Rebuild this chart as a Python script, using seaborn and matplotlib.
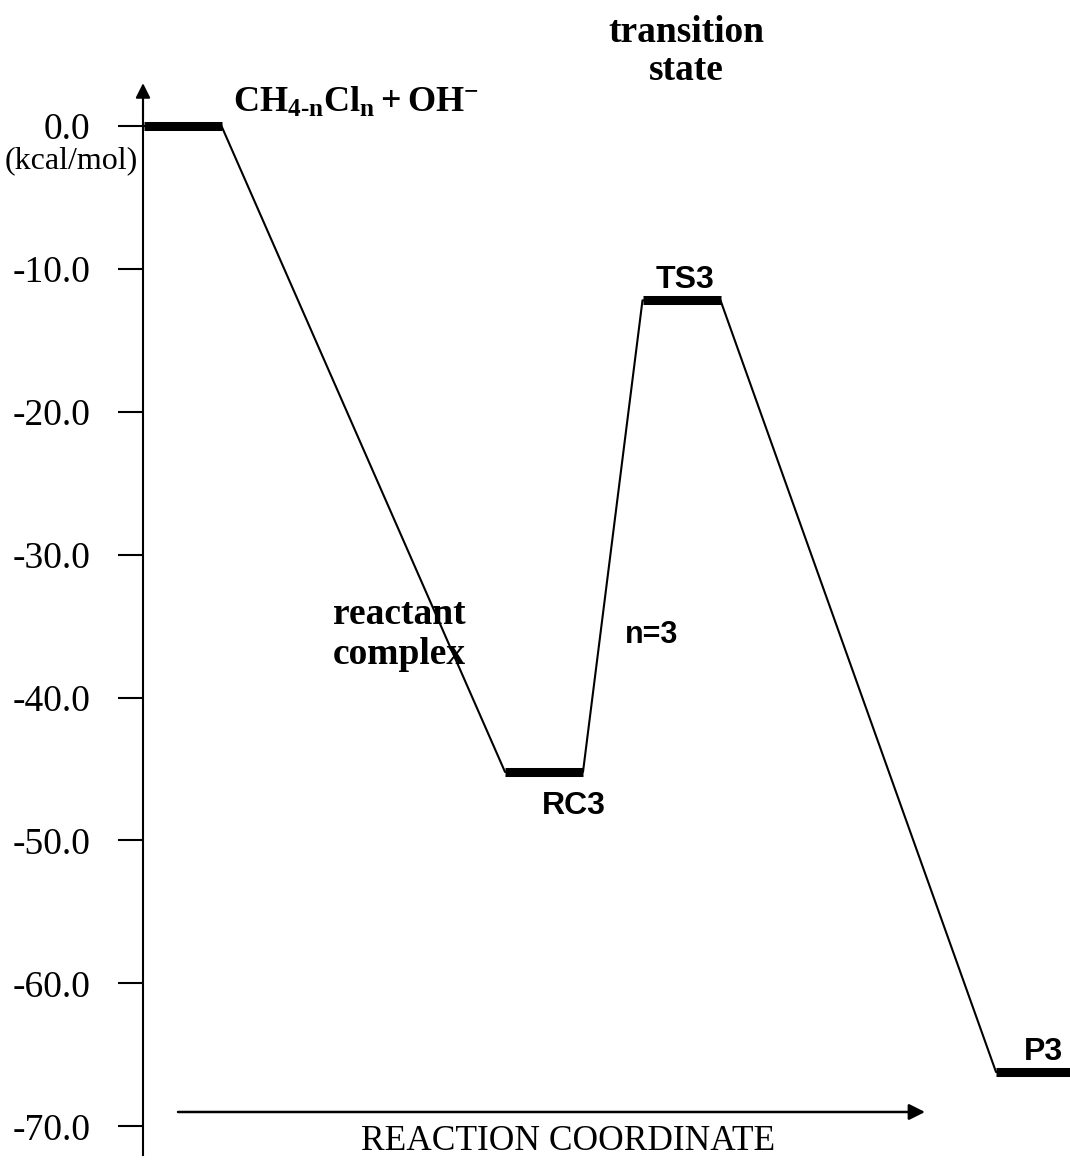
import matplotlib
matplotlib.use("Agg")
import matplotlib.pyplot as plt
from matplotlib.ticker import FixedLocator, FixedFormatter
import pandas as pd
import seaborn as sns

# Energy profile for CH(4-n)Cl(n) + OH- with n = 3 (kcal/mol)
stages = ["R", "RC3", "TS3", "P3"]
energies = [0.0, -45.2, -12.2, -66.2]
stage_labels = ["", "RC3", "TS3", "P3"]

# Energy axis ticks
tick_values = [0.0, -10.0, -20.0, -30.0, -40.0, -50.0, -60.0, -70.0]
tick_labels = ["0.0", "-10.0", "-20.0", "-30.0", "-40.0", "-50.0", "-60.0", "-70.0"]

# Layout: centre of each level along the reaction coordinate and half width
stage_x = [182.5, 544.0, 681.5, 1035.0]
half_width = 39.0
axis_x = 143.0

sns.set_style("white")
plt.rcParams["font.family"] = ["Liberation Serif", "DejaVu Serif"]
plt.rcParams["text.color"] = "black"
plt.rcParams["mathtext.fontset"] = "custom"
plt.rcParams["mathtext.rm"] = "Liberation Serif:bold"
plt.rcParams["mathtext.it"] = "Liberation Serif:bold"
plt.rcParams["mathtext.bf"] = "Liberation Serif:bold"

fig = plt.figure(figsize=(10.7, 11.6), dpi=100)
ax = fig.add_axes([0, 0, 1, 1])
ax.set_xlim(0, 1070)
ax.set_ylim(-72.36, 8.82)

# Path through the levels: left and right end of every level bar
path_rows = []
level_rows = []
for name, xc, e in zip(stages, stage_x, energies):
    for xe in (xc - half_width, xc + half_width):
        path_rows.append({"x": xe, "E": e})
        level_rows.append({"stage": name, "x": xe, "E": e})
path = pd.DataFrame(path_rows)
levels = pd.DataFrame(level_rows)

sns.lineplot(data=path, x="x", y="E", sort=False, estimator=None,
             color="black", linewidth=1.5, ax=ax)
sns.lineplot(data=levels, x="x", y="E", units="stage", sort=False,
             estimator=None, color="black", linewidth=6.5,
             solid_capstyle="butt", ax=ax)

# Energy axis
for side in ("top", "right", "bottom"):
    ax.spines[side].set_visible(False)
ax.spines["left"].set_position(("data", axis_x))
ax.spines["left"].set_bounds(-72.0, 2.0)
ax.spines["left"].set_linewidth(1.5)
ax.spines["left"].set_color("black")
ax.yaxis.set_major_locator(FixedLocator(tick_values))
ax.yaxis.set_major_formatter(FixedFormatter(tick_labels))
ax.tick_params(axis="y", direction="out", length=18, width=1.5,
               pad=20, labelsize=27, left=True, colors="black",
               labelcolor="black")
ax.set_xticks([])
ax.set_xlabel("")
ax.set_ylabel("")
ax.annotate("", xy=(axis_x, 3.0), xytext=(axis_x, 0.5),
            arrowprops=dict(arrowstyle="-|>", color="black", lw=1.5,
                            mutation_scale=22, shrinkA=0, shrinkB=0))

# Reaction coordinate arrow
ax.annotate("", xy=(925, -69.0), xytext=(178, -69.0),
            arrowprops=dict(arrowstyle="-|>", color="black", lw=1.8,
                            mutation_scale=24, shrinkA=0, shrinkB=0))
ax.text(568, -71.1, "REACTION COORDINATE", ha="center", va="center",
        fontsize=25.5)

# Unit label under the top tick
ax.text(138, -2.4, "(kcal/mol)", ha="right", va="center", fontsize=23)

# Species and region labels
ax.text(233, 1.6, r"$\mathrm{CH_{4\text{-}n}Cl_n + OH^{-}}$",
        ha="left", va="center", fontsize=26)
ax.text(686, 5.2, "transition\nstate", ha="center", va="center",
        fontsize=27, fontweight="bold", linespacing=1.1)
ax.text(333, -35.6, "reactant\ncomplex", ha="left", va="center",
        fontsize=27, fontweight="bold", linespacing=1.2)
ax.text(625, -35.6, "n=3", ha="left", va="center", fontsize=22,
        fontweight="bold", family="Liberation Sans")

# Stationary point labels
label_offsets = [0.0, -2.4, 1.4, 1.4]
for xc, e, lab, off in zip(stage_x, energies, stage_labels, label_offsets):
    if lab:
        ax.text(xc + (8 if lab == "P3" else 30 if lab == "RC3" else 4),
                e + off, lab, ha="center", va="center", fontsize=23,
                fontweight="bold", family="Liberation Sans")

fig.savefig("out.png", dpi=100, facecolor="white")
